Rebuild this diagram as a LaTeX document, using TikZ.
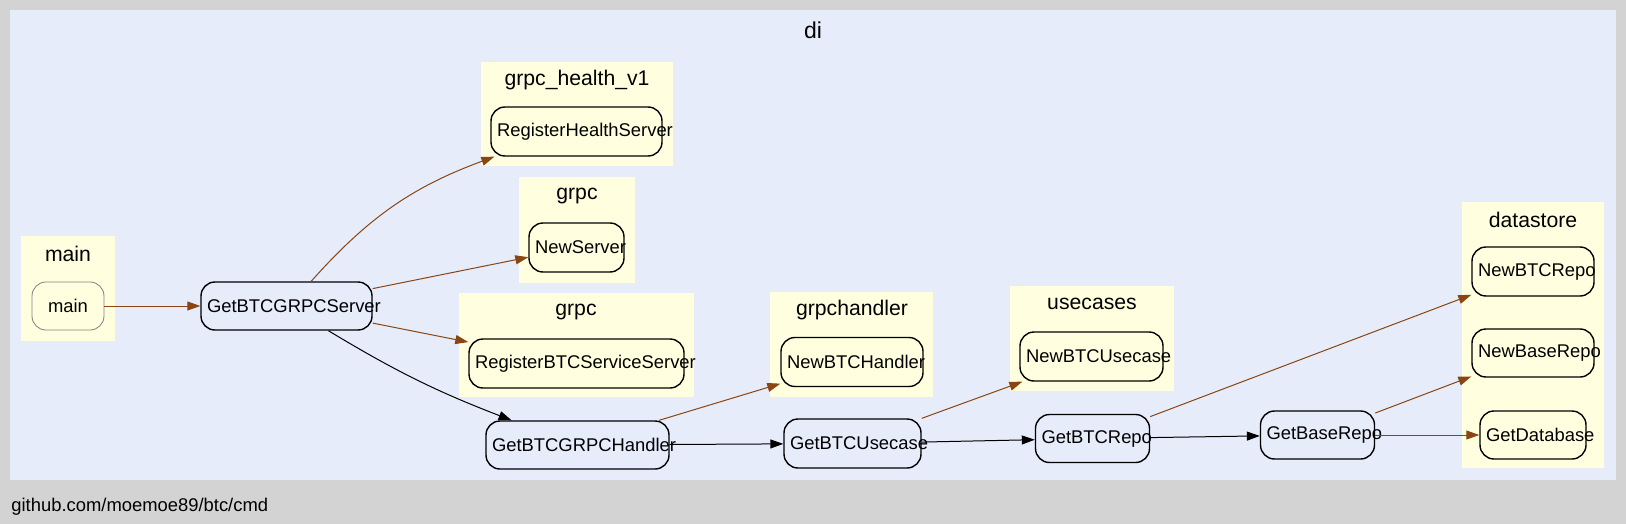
\documentclass[tikz,border=0pt]{standalone}
\usepackage{fontspec}
\setmainfont{Liberation Sans}
\usetikzlibrary{arrows.meta}
\tikzset{>={Triangle[width=4.5pt,length=6.5pt]}}
\definecolor{gv_gray}{RGB}{211,211,211}
\definecolor{gv_lavender}{RGB}{230,236,250}
\definecolor{gv_yellow}{RGB}{255,255,224}
\definecolor{gv_brown}{RGB}{139,69,19}

\begin{document}
\begin{tikzpicture}[
		x=0.5pt, y=-0.5pt,
		every node/.style={font=\fontsize{9.2}{11}\selectfont},
		title/.style={font=\fontsize{10.6}{12}\selectfont},
		func/.style={draw, line width=0.7pt, rounded corners=7pt, inner xsep=3pt, inner ysep=0pt, align=center},
		dep/.style={->, gv_brown, line width=0.5pt},
		call/.style={->, black, line width=0.5pt},
	]
	% background and outer package
	\useasboundingbox (0,0) rectangle (1626,524);
	\fill[gv_gray] (0,0) rectangle (1626,524);
	\fill[gv_lavender] (10,10) rectangle (1616,480);
	\node[font=\fontsize{11.5}{13}\selectfont, name=title-di] at (813,30) {di};
	\node[anchor=west, inner xsep=0pt, name=footer] at (11,507) {github.com/moemoe89/btc/cmd};

	\newcommand{\cluster}[5]{%
		\fill[gv_yellow] #1 rectangle #2;
		\node[title, name=title-#5] at #3 {#4};
	}

	% sizes are given in pixels
	\newcommand{\func}[6][]{%
		\pgfmathsetmacro{\funcw}{#4/2}
		\pgfmathsetmacro{\functw}{#4/2-6}
		\pgfmathsetmacro{\funch}{#5/2}
		\node[func, #1, minimum width=\funcw pt, minimum height=\funch pt, text width=\functw pt] (#2) at #3 {#6};
	}

	\cluster{(21,236)}{(115,341)}{(68,254)}{main}{main}
	\cluster{(481,62)}{(673,166)}{(577,80)}{grpc\_health\_v1}{health}
	\cluster{(519,177)}{(635,283)}{(577,196)}{grpc}{grpc1}
	\cluster{(459,293)}{(694,397)}{(576,312)}{grpc}{grpc2}
	\cluster{(770,292)}{(933,397)}{(852,310)}{grpchandler}{grpchandler}
	\cluster{(1010,286)}{(1174,391)}{(1092,304)}{usecases}{usecases}
	\cluster{(1462,202)}{(1604,468)}{(1533,220)}{datastore}{datastore}

	\func[draw=gray, line width=0.4pt]{main}{(68,306)}{72}{48}{main}
	\func{srv}{(286.5,306)}{171}{48}{GetBTCGRPCServer}
	\func{health}{(576.5,131.5)}{171}{49}{RegisterHealthServer}
	\func{newsrv}{(576.5,247.5)}{95}{49}{NewServer}
	\func{regsvc}{(576.5,363.5)}{215}{49}{RegisterBTCServiceServer}
	\func{newhdl}{(852,362)}{142}{49}{NewBTCHandler}
	\func{newuc}{(1091.5,356.5)}{143}{49}{NewBTCUsecase}
	\func{newrepo}{(1533,271.5)}{122}{49}{NewBTCRepo}
	\func{newbase}{(1533,353)}{122}{48}{NewBaseRepo}
	\func{db}{(1533,435)}{106}{48}{GetDatabase}
	\func{hdl}{(577.5,445)}{183}{48}{GetBTCGRPCHandler}
	\func{uc}{(852.5,443.5)}{137}{49}{GetBTCUsecase}
	\func{repo}{(1092.5,438.5)}{114}{48}{GetBTCRepo}
	\func{base}{(1317.5,435)}{114}{48}{GetBaseRepo}

	% calls
	\draw[dep] (main) -- (srv);
	\draw[dep] (srv) to[bend left=14] (health);
	\draw[dep] (srv) -- (newsrv);
	\draw[dep] (srv) -- (regsvc);
	\draw[call] (srv) to[bend right=5] (hdl);
	\draw[dep] (hdl) -- (newhdl);
	\draw[call] (hdl) -- (uc);
	\draw[dep] (uc) -- (newuc);
	\draw[call] (uc) -- (repo);
	\draw[dep] (repo) -- (newrepo);
	\draw[call] (repo) -- (base);
	\draw[dep] (base) -- (newbase);
	\draw[dep] (base) -- (db);

\end{tikzpicture}
\end{document}
